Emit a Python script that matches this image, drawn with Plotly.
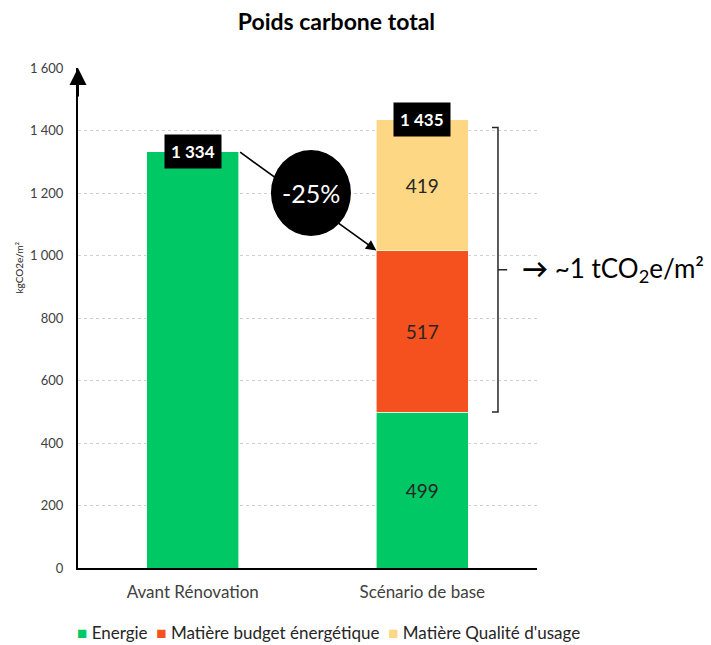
import plotly.graph_objects as go

categories = ["Avant Rénovation", "Scénario de base"]
series_names = ["Energie", "Matière budget énergétique", "Matière Qualité d'usage"]
energie = [1334, 499]
matiere_budget = [0, 517]
matiere_qualite = [0, 419]
totals = [1334, 1435]
colors = ["#00C865", "#F5511E", "#FDD783"]
y_ticks = [0, 200, 400, 600, 800, 1000, 1200, 1400, 1600]
reduction_label = "-25%"
bracket_range = [499, 1410]


def fmt(v):
    return f"{v:,}".replace(",", " ")


FONT = "Lato, 'Open Sans', sans-serif"

fig = go.Figure()
series_values = [energie, matiere_budget, matiere_qualite]
for name, vals, col in zip(series_names, series_values, colors):
    txt = [fmt(v) if (i == 1 and v > 0) else "" for i, v in enumerate(vals)]
    fig.add_trace(go.Bar(
        x=categories, y=vals, name=name, marker=dict(color=col, line=dict(color="white", width=0.6)),
        text=txt, textposition="inside", insidetextanchor="middle",
        textfont=dict(size=19, color="#262626", family=FONT),
        hoverinfo="skip", showlegend=False,
    ))

annotations = []
# total labels (black boxes)
for i, t in enumerate(totals):
    annotations.append(dict(x=i, y=t, xref="x", yref="y", text=f"<b>{fmt(t)}</b>", showarrow=False,
                            font=dict(color="white", size=17, family=FONT), bgcolor="black",
                            borderpad=6, xanchor="center", yanchor="middle"))

# arrow from first bar top to second bar's matière budget top
arrow_end = energie[1] + matiere_budget[1]
annotations.append(dict(x=0.8, y=arrow_end, xref="x", yref="y", ax=0.2, ay=totals[0], axref="x", ayref="y",
                        text="", showarrow=True, arrowhead=2, arrowsize=1.3, arrowwidth=1.6, arrowcolor="black"))

# y axis arrow head
annotations.append(dict(x=0, y=y_ticks[-1], xref="paper", yref="y", ax=0, ay=30, text="", showarrow=True,
                        arrowhead=2, arrowsize=1.7, arrowwidth=2, arrowcolor="black"))

# -25% text
circle_y = 1200
annotations.append(dict(x=0.515, y=circle_y, xref="x", yref="y", text=reduction_label, showarrow=False,
                        font=dict(color="white", size=25, family=FONT)))

# bracket label
bracket_mid = (bracket_range[0] + bracket_range[1]) / 2
annotations.append(dict(x=0.962, y=bracket_mid, xref="paper", yref="y", xanchor="left", yanchor="middle",
                        text="<b>→</b> ~1 tCO<sub>2</sub>e/m²", showarrow=False,
                        font=dict(color="black", size=26, family=FONT)))

# y axis title
annotations.append(dict(x=-0.145, y=963, xref="paper", yref="y", text="kgCO2e/m²", textangle=-90,
                        showarrow=False, font=dict(size=10, color="#262626", family=FONT)))

# legend (manual, compact squares next to text)
legend_parts = [f"<span style='color:{c}'>■</span> {n}" for n, c in zip(series_names, colors)]
annotations.append(dict(x=-0.007, y=-0.128, xref="paper", yref="paper", xanchor="left", yanchor="middle",
                        text="  ".join(legend_parts), showarrow=False,
                        font=dict(size=17, color="#262626", family=FONT)))

shapes = [
    dict(type="circle", xref="x", yref="y", xsizemode="pixel", ysizemode="pixel",
         xanchor=0.515, yanchor=circle_y, x0=-40, x1=40, y0=-43, y1=43,
         fillcolor="black", line=dict(color="black", width=0), layer="above"),
    dict(type="path", xref="paper", yref="y",
         path=(f"M 0.902,{bracket_range[1]} L 0.915,{bracket_range[1]} L 0.915,{bracket_range[0]} "
               f"L 0.902,{bracket_range[0]} M 0.915,{bracket_mid} L 0.935,{bracket_mid}"),
         line=dict(color="#262626", width=1.5)),
]

fig.update_layout(
    width=711, height=645,
    barmode="stack", bargap=0.6,
    plot_bgcolor="white", paper_bgcolor="white",
    margin=dict(l=78, r=174, t=68, b=77, autoexpand=False),
    font=dict(family=FONT, color="#404040"),
    title=dict(text="<b>Poids carbone total</b>", x=0.563, xref="paper", y=0.966, yref="container",
               xanchor="center", yanchor="middle", font=dict(size=23, color="black", family=FONT)),
    showlegend=False,
    annotations=annotations,
    shapes=shapes,
)
fig.update_xaxes(showline=True, linecolor="black", linewidth=2, ticks="", showgrid=False, automargin=False,
                 tickfont=dict(size=17, color="#404040", family=FONT), ticklabelstandoff=8)
fig.update_yaxes(range=[0, 1600], tickvals=y_ticks, ticktext=[fmt(v) for v in y_ticks], automargin=False,
                 showline=True, linecolor="black", linewidth=2, ticks="",
                 showgrid=True, gridcolor="#D0D0D0", griddash="dot", gridwidth=1,
                 zeroline=False, tickfont=dict(size=13, color="#404040", family=FONT),
                 ticklabelstandoff=10)

fig.write_html("out.html", config={"displayModeBar": False},
               post_script="document.body.style.margin='0';")
